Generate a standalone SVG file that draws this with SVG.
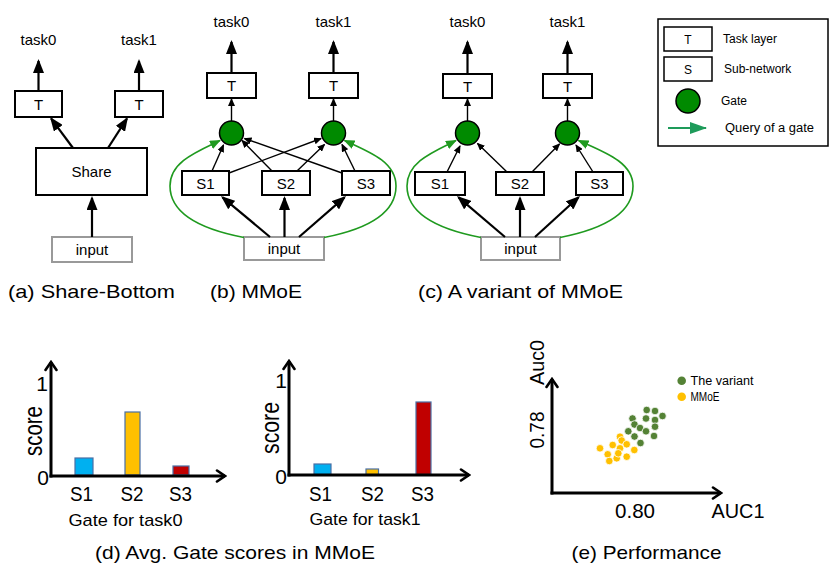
<svg xmlns="http://www.w3.org/2000/svg" width="830" height="579" viewBox="0 0 830 579">
<defs>
<marker id="big" markerUnits="userSpaceOnUse" markerWidth="14" markerHeight="11" viewBox="0 0 14 11" refX="12" refY="5.5" orient="auto"><path d="M0,0 L14,5.5 L0,11 z" fill="#000"/></marker>
<marker id="small" markerUnits="userSpaceOnUse" markerWidth="8" markerHeight="7" viewBox="0 0 8 7" refX="7" refY="3.5" orient="auto"><path d="M0,0 L8,3.5 L0,7 z" fill="#000"/></marker>
<marker id="green" markerUnits="userSpaceOnUse" markerWidth="11" markerHeight="9" viewBox="0 0 11 9" refX="10" refY="4.5" orient="auto"><path d="M0,0 L11,4.5 L0,9 z" fill="#1f9a1f"/></marker>
<marker id="lgreen" markerUnits="userSpaceOnUse" markerWidth="17" markerHeight="12" viewBox="0 0 17 12" refX="16" refY="6" orient="auto"><path d="M0,0 L17,6 L0,12 z" fill="#1e9b5a"/></marker>
<marker id="chev" markerUnits="userSpaceOnUse" markerWidth="12" markerHeight="14" viewBox="0 0 12 14" refX="10" refY="7" orient="auto"><path d="M2,1.5 L10,7 L2,12.5" fill="none" stroke="#000" stroke-width="2.6" stroke-linecap="round" stroke-linejoin="miter"/></marker>
</defs>
<style>
text{font-family:"Liberation Sans",Arial,sans-serif;fill:#000}
.lbl{font-size:15px;text-anchor:middle}
.box{fill:#fff;stroke:#000;stroke-width:2}
.inp{fill:#fff;stroke:#999;stroke-width:2}
.gate{fill:#008a00;stroke:#000;stroke-width:1.5}
.a{stroke:#000;stroke-width:2.2;fill:none;marker-end:url(#big)}
.s{stroke:#000;stroke-width:1.4;fill:none;marker-end:url(#small)}
.q{stroke:#1f9a1f;stroke-width:1.6;fill:none;marker-end:url(#green)}
.cap{font-size:19px}
.leg{font-size:12px}
.ax{stroke:#000;stroke-width:3;fill:none;marker-end:url(#chev)}
.big{font-size:21px}
.tick{font-size:21px;text-anchor:middle}
.gv{fill:#548235;stroke:#fff;stroke-width:0.8}
.ym{fill:#ffc000;stroke:#fff;stroke-width:0.8}
.bar{stroke:#4a6fa5;stroke-width:1.2}
</style>

<!-- Panel (a) -->
<g id="a-task0"><text class="lbl" x="38.5" y="45">task0</text></g>
<g id="a-task1"><text class="lbl" x="139" y="45">task1</text></g>
<g id="a-T0"><rect class="box" x="15" y="91" width="47" height="26"/><text class="lbl" x="38.5" y="109.5">T</text></g>
<g id="a-T1"><rect class="box" x="115" y="91" width="48" height="26"/><text class="lbl" x="139" y="109.5">T</text></g>
<g id="a-share"><rect class="box" x="36" y="148" width="111" height="47"/><text class="lbl" x="91.5" y="177">Share</text></g>
<g id="a-input"><rect class="inp" x="52" y="237" width="80" height="25"/><text class="lbl" x="92" y="255">input</text></g>

<!-- Panel (b) -->
<g id="b-task0"><text class="lbl" x="231.5" y="27">task0</text></g>
<g id="b-task1"><text class="lbl" x="333.5" y="27">task1</text></g>
<g id="b-T0"><rect class="box" x="207" y="73" width="49" height="25"/><text class="lbl" x="231.5" y="91">T</text></g>
<g id="b-T1"><rect class="box" x="309" y="73" width="49" height="25"/><text class="lbl" x="333.5" y="91">T</text></g>
<g id="b-gate0"><circle class="gate" cx="231.5" cy="133" r="12"/></g>
<g id="b-gate1"><circle class="gate" cx="333.5" cy="133" r="12"/></g>
<g id="b-S1"><rect class="box" x="182" y="171" width="47" height="24"/><text class="lbl" x="205.5" y="188.5">S1</text></g>
<g id="b-S2"><rect class="box" x="262" y="171" width="48" height="24"/><text class="lbl" x="286" y="188.5">S2</text></g>
<g id="b-S3"><rect class="box" x="342" y="171" width="48" height="24"/><text class="lbl" x="366" y="188.5">S3</text></g>
<g id="b-input"><rect class="inp" x="244" y="237" width="80" height="23"/><text class="lbl" x="284" y="254">input</text></g>

<!-- Panel (c) -->
<g id="c-task0"><text class="lbl" x="467.5" y="27">task0</text></g>
<g id="c-task1"><text class="lbl" x="567.5" y="27">task1</text></g>
<g id="c-T0"><rect class="box" x="443" y="74" width="49" height="24"/><text class="lbl" x="467.5" y="91.5">T</text></g>
<g id="c-T1"><rect class="box" x="543" y="74" width="49" height="24"/><text class="lbl" x="567.5" y="91.5">T</text></g>
<g id="c-gate0"><circle class="gate" cx="467.5" cy="133" r="12"/></g>
<g id="c-gate1"><circle class="gate" cx="567.5" cy="133" r="12"/></g>
<g id="c-S1"><rect class="box" x="415" y="172" width="50" height="23"/><text class="lbl" x="440" y="189">S1</text></g>
<g id="c-S2"><rect class="box" x="496" y="172" width="48" height="23"/><text class="lbl" x="520" y="189">S2</text></g>
<g id="c-S3"><rect class="box" x="576" y="172" width="47" height="23"/><text class="lbl" x="599.5" y="189">S3</text></g>
<g id="c-input"><rect class="inp" x="481" y="237" width="79" height="23"/><text class="lbl" x="520.5" y="254">input</text></g>

<!-- Connectors -->
<g id="connectors">
<line class="a" x1="38.5" y1="91" x2="38.5" y2="61"/>
<line class="a" x1="139" y1="91" x2="139" y2="61"/>
<line class="a" x1="73" y1="148" x2="51.2" y2="118.6"/>
<line class="a" x1="108" y1="148" x2="126.9" y2="118.7"/>
<line class="a" x1="92" y1="237" x2="92" y2="198"/>

<line class="a" x1="231.5" y1="73" x2="231.5" y2="42"/>
<line class="a" x1="333.5" y1="73" x2="333.5" y2="42"/>
<line class="s" x1="231.5" y1="121" x2="231.5" y2="99"/>
<line class="s" x1="333.5" y1="121" x2="333.5" y2="99"/>
<line class="a" x1="270" y1="237" x2="222.5" y2="197.3"/>
<line class="a" x1="284.5" y1="237" x2="284.5" y2="198"/>
<line class="a" x1="299" y1="237" x2="344.5" y2="197.3"/>
<line class="s" x1="212" y1="171" x2="223.5" y2="145"/>
<line class="s" x1="229" y1="173" x2="321" y2="138.5"/>
<line class="s" x1="272" y1="171" x2="242" y2="140.5"/>
<line class="s" x1="297" y1="171" x2="324.5" y2="144.5"/>
<line class="s" x1="355" y1="171" x2="342" y2="144.5"/>
<line class="s" x1="342" y1="173" x2="244.5" y2="138.5"/>
<path class="q" d="M244,237.5 C205,230 170,215 170,186 C170,162 196,152 220,140.5"/>
<path class="q" d="M324,237.5 C363,230 396,215 396,186 C396,162 370,152 344.5,140.5"/>

<line class="a" x1="467.5" y1="74" x2="467.5" y2="42"/>
<line class="a" x1="567.5" y1="74" x2="567.5" y2="42"/>
<line class="s" x1="467.5" y1="121" x2="467.5" y2="99"/>
<line class="s" x1="567.5" y1="121" x2="567.5" y2="99"/>
<line class="a" x1="505" y1="237" x2="458.5" y2="197.3"/>
<line class="a" x1="520" y1="237" x2="520" y2="198"/>
<line class="a" x1="535" y1="237" x2="578.5" y2="197.3"/>
<line class="s" x1="447" y1="172" x2="460" y2="146"/>
<line class="s" x1="507" y1="172" x2="477.5" y2="143.5"/>
<line class="s" x1="532" y1="172" x2="559.5" y2="144"/>
<line class="s" x1="593" y1="172" x2="576" y2="145"/>
<path class="q" d="M481,237.5 C442,230 407,215 407,186 C407,162 433,152 456,140.5"/>
<path class="q" d="M560,237.5 C598,230 633,215 633,186 C633,162 604,152 578.5,140.5"/>
</g>

<!-- Captions top -->
<text class="cap" x="8" y="298" textLength="167" lengthAdjust="spacingAndGlyphs">(a) Share-Bottom</text>
<text class="cap" x="210" y="298" textLength="92" lengthAdjust="spacingAndGlyphs">(b) MMoE</text>
<text class="cap" x="418" y="298" textLength="205" lengthAdjust="spacingAndGlyphs">(c) A variant of MMoE</text>

<!-- Legend -->
<g id="legend">
<rect x="658" y="19" width="170" height="127" fill="#fff" stroke="#000" stroke-width="1.5"/>
<rect class="box" x="664" y="27" width="48" height="24" style="stroke-width:1.5"/><text class="leg" x="688" y="43.5" text-anchor="middle">T</text>
<text class="leg" x="723" y="43">Task layer</text>
<rect class="box" x="664" y="57" width="48" height="24" style="stroke-width:1.5"/><text class="leg" x="688" y="73.5" text-anchor="middle">S</text>
<text class="leg" x="724" y="73">Sub-network</text>
<circle class="gate" cx="688" cy="101" r="12"/>
<text class="leg" x="721" y="105">Gate</text>
<line x1="668" y1="128" x2="706" y2="128" stroke="#1e9b5a" stroke-width="2" marker-end="url(#lgreen)"/>
<text class="leg" x="725" y="132" textLength="89" lengthAdjust="spacingAndGlyphs">Query of a gate</text>
</g>

<!-- Chart d1 -->
<g id="chart-task0">
<rect class="bar" x="75" y="458" width="18" height="17" fill="#00b0f0"/>
<rect class="bar" x="125" y="412" width="15" height="63" fill="#ffc000"/>
<rect class="bar" x="173" y="466" width="16" height="9" fill="#c00000"/>
<line class="ax" x1="51" y1="477.5" x2="51" y2="362"/>
<line class="ax" x1="49.5" y1="476" x2="225" y2="476"/>
<text class="tick" x="42" y="390.5">1</text>
<text class="tick" x="43" y="484.5">0</text>
<text class="big" transform="translate(42,431) rotate(-90)" text-anchor="middle" style="font-size:25px" textLength="50" lengthAdjust="spacingAndGlyphs">score</text>
<text class="tick" x="81.5" y="501" textLength="23" lengthAdjust="spacingAndGlyphs">S1</text>
<text class="tick" x="132" y="501" textLength="23" lengthAdjust="spacingAndGlyphs">S2</text>
<text class="tick" x="180.5" y="501" textLength="23" lengthAdjust="spacingAndGlyphs">S3</text>
<text x="68.5" y="525.5" style="font-size:17px" textLength="114" lengthAdjust="spacingAndGlyphs">Gate for task0</text>
</g>

<!-- Chart d2 -->
<g id="chart-task1">
<rect class="bar" x="314" y="464" width="17" height="10.5" fill="#00b0f0"/>
<rect class="bar" x="366" y="469" width="12.5" height="5.5" fill="#ffc000"/>
<rect class="bar" x="416" y="402" width="15" height="72.5" fill="#c00000"/>
<line class="ax" x1="289" y1="476.5" x2="289" y2="361"/>
<line class="ax" x1="287.5" y1="475" x2="469" y2="475"/>
<text class="tick" x="281" y="388">1</text>
<text class="tick" x="281" y="484">0</text>
<text class="big" transform="translate(279,428) rotate(-90)" text-anchor="middle" style="font-size:25px" textLength="52" lengthAdjust="spacingAndGlyphs">score</text>
<text class="tick" x="320.5" y="500.5" textLength="23" lengthAdjust="spacingAndGlyphs">S1</text>
<text class="tick" x="372.5" y="500.5" textLength="23" lengthAdjust="spacingAndGlyphs">S2</text>
<text class="tick" x="422.5" y="500.5" textLength="23" lengthAdjust="spacingAndGlyphs">S3</text>
<text x="309.5" y="525" style="font-size:17px" textLength="111" lengthAdjust="spacingAndGlyphs">Gate for task1</text>
</g>

<text class="cap" x="95" y="559" textLength="280" lengthAdjust="spacingAndGlyphs">(d) Avg. Gate scores in MMoE</text>

<!-- Scatter (e) -->
<g id="scatter">
<line class="ax" x1="552" y1="494.5" x2="552" y2="379"/>
<line class="ax" x1="550.5" y1="493" x2="721" y2="493"/>
<text class="big" transform="translate(544,362.5) rotate(-90)" text-anchor="middle" textLength="45" lengthAdjust="spacingAndGlyphs">Auc0</text>
<text class="big" transform="translate(544,430) rotate(-90)" text-anchor="middle" textLength="37" lengthAdjust="spacingAndGlyphs">0.78</text>
<text class="big" x="615" y="518" textLength="40" lengthAdjust="spacingAndGlyphs">0.80</text>
<text class="big" x="711.5" y="518" textLength="53" lengthAdjust="spacingAndGlyphs">AUC1</text>
<circle class="gv" cx="646.7" cy="410" r="3.8"/>
<circle class="gv" cx="655" cy="411" r="3.8"/>
<circle class="gv" cx="662.5" cy="416" r="3.8"/>
<circle class="gv" cx="632.5" cy="418.5" r="3.8"/>
<circle class="gv" cx="646" cy="418.5" r="3.8"/>
<circle class="gv" cx="655" cy="420" r="3.8"/>
<circle class="gv" cx="634.5" cy="424.5" r="3.8"/>
<circle class="gv" cx="655" cy="426.7" r="3.8"/>
<circle class="gv" cx="628.3" cy="431.3" r="3.8"/>
<circle class="gv" cx="640" cy="428" r="3.8"/>
<circle class="gv" cx="646" cy="431.3" r="3.8"/>
<circle class="gv" cx="654" cy="436" r="3.8"/>
<circle class="gv" cx="634.5" cy="436.5" r="3.8"/>
<circle class="gv" cx="640.5" cy="443" r="3.8"/>
<circle class="ym" cx="600" cy="448.3" r="3.8"/>
<circle class="ym" cx="607.7" cy="454.3" r="3.8"/>
<circle class="ym" cx="609.3" cy="461" r="3.8"/>
<circle class="ym" cx="616.7" cy="458.3" r="3.8"/>
<circle class="ym" cx="612.7" cy="445" r="3.8"/>
<circle class="ym" cx="620" cy="436.7" r="3.8"/>
<circle class="ym" cx="621.7" cy="440.5" r="3.8"/>
<circle class="ym" cx="620" cy="448.3" r="3.8"/>
<circle class="ym" cx="626.7" cy="456.7" r="3.8"/>
<circle class="ym" cx="634.3" cy="450" r="3.8"/>
<circle class="ym" cx="626.7" cy="444.3" r="3.8"/>
<circle class="ym" cx="618.3" cy="453.3" r="3.8"/>
<circle cx="681.7" cy="380.7" r="4.3" fill="#548235"/>
<text class="leg" x="690.5" y="384.5" textLength="63" lengthAdjust="spacingAndGlyphs">The variant</text>
<circle cx="681.7" cy="396.7" r="4.3" fill="#ffc000"/>
<text class="leg" x="690.5" y="400.5" textLength="29" lengthAdjust="spacingAndGlyphs">MMoE</text>
</g>
<text class="cap" x="571.5" y="559" textLength="150" lengthAdjust="spacingAndGlyphs">(e) Performance</text>
</svg>
